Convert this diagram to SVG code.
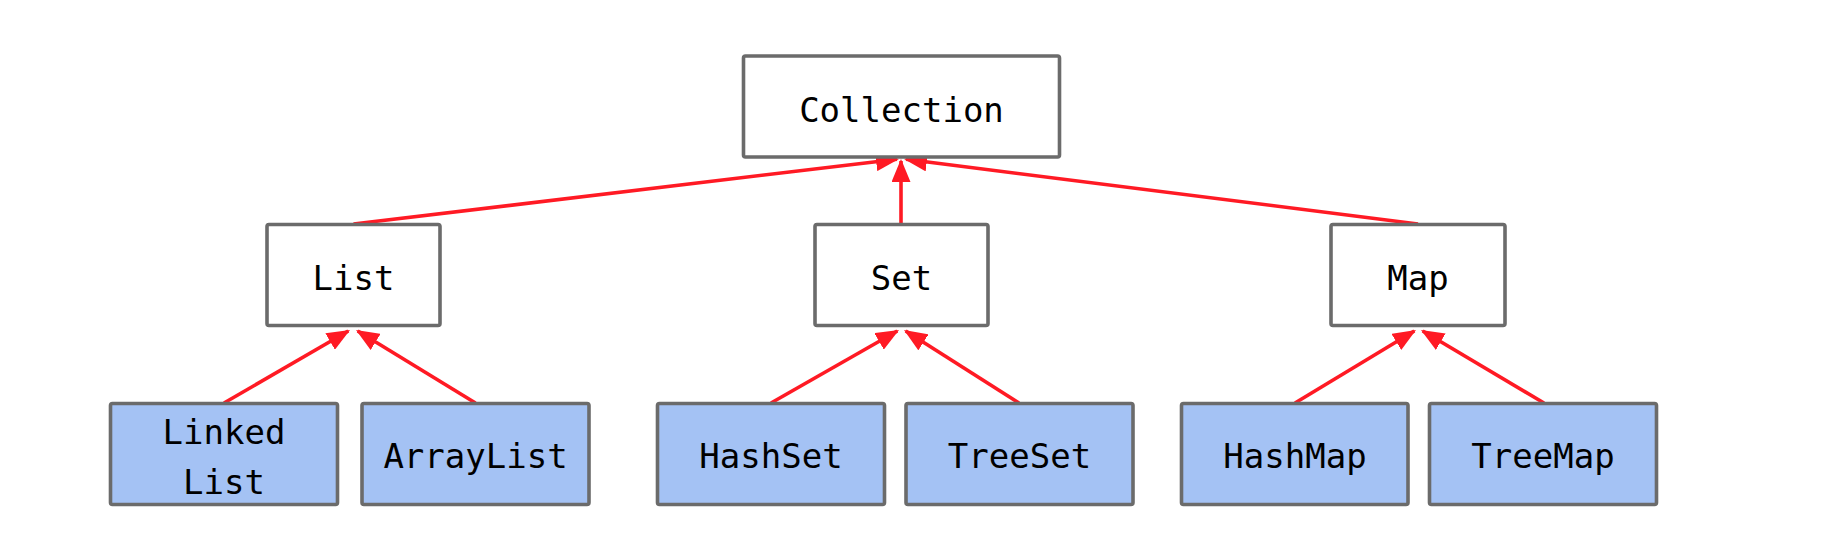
<svg xmlns="http://www.w3.org/2000/svg" width="1834" height="536" viewBox="0 0 1834 536">
<style>
.box{fill:#ffffff;stroke:#6b6b6b;stroke-width:3.6}
.leaf{fill:#a4c2f4;stroke:#6b6b6b;stroke-width:3.6}
.lbl{font-family:"DejaVu Sans Mono","Liberation Mono",monospace;font-size:34px;fill:#000;text-anchor:middle}
.edge{stroke:#ff1a24;stroke-width:3.6;fill:none;marker-end:url(#arr)}
</style>
<defs>
<marker id="arr" markerUnits="userSpaceOnUse" markerWidth="25" markerHeight="19" refX="21" refY="9.5" orient="auto">
<path d="M0,0 L23,9.5 L0,19 z" fill="#ff1a24"/>
</marker>
</defs>
<rect width="1834" height="536" fill="#ffffff"/>
<g id="connectors">
<line class="edge" x1="353.5" y1="224" x2="897" y2="159.2"/>
<line class="edge" x1="901" y1="224" x2="901" y2="161"/>
<line class="edge" x1="1418" y1="224" x2="906" y2="159.3"/>
<line class="edge" x1="224" y1="403" x2="348.3" y2="331"/>
<line class="edge" x1="475.5" y1="403" x2="357.7" y2="331"/>
<line class="edge" x1="771" y1="403" x2="897.3" y2="331"/>
<line class="edge" x1="1019" y1="403" x2="905.7" y2="331.1"/>
<line class="edge" x1="1295" y1="403" x2="1414.3" y2="331"/>
<line class="edge" x1="1544" y1="403" x2="1422.7" y2="331"/>
</g>
<g id="collection"><rect class="box" x="743.5" y="56" width="316" height="101" rx="2"/><text class="lbl" x="901.5" y="121.5">Collection</text></g>
<g id="list"><rect class="box" x="267" y="224.5" width="173" height="101" rx="2"/><text class="lbl" x="353.5" y="290">List</text></g>
<g id="set"><rect class="box" x="815" y="224.5" width="173" height="101" rx="2"/><text class="lbl" x="901.5" y="290">Set</text></g>
<g id="map"><rect class="box" x="1331" y="224.5" width="174" height="101" rx="2"/><text class="lbl" x="1418" y="290">Map</text></g>
<g id="linkedlist"><rect class="leaf" x="110.5" y="403.5" width="227" height="101" rx="2"/><text class="lbl" x="224" y="444">Linked</text><text class="lbl" x="224" y="494">List</text></g>
<g id="arraylist"><rect class="leaf" x="362" y="403.5" width="227" height="101" rx="2"/><text class="lbl" x="475.5" y="468">ArrayList</text></g>
<g id="hashset"><rect class="leaf" x="657.5" y="403.5" width="227" height="101" rx="2"/><text class="lbl" x="771" y="468">HashSet</text></g>
<g id="treeset"><rect class="leaf" x="906" y="403.5" width="227" height="101" rx="2"/><text class="lbl" x="1019.5" y="468">TreeSet</text></g>
<g id="hashmap"><rect class="leaf" x="1181.5" y="403.5" width="226.5" height="101" rx="2"/><text class="lbl" x="1295" y="468">HashMap</text></g>
<g id="treemap"><rect class="leaf" x="1429.5" y="403.5" width="227" height="101" rx="2"/><text class="lbl" x="1543" y="468">TreeMap</text></g>
</svg>
